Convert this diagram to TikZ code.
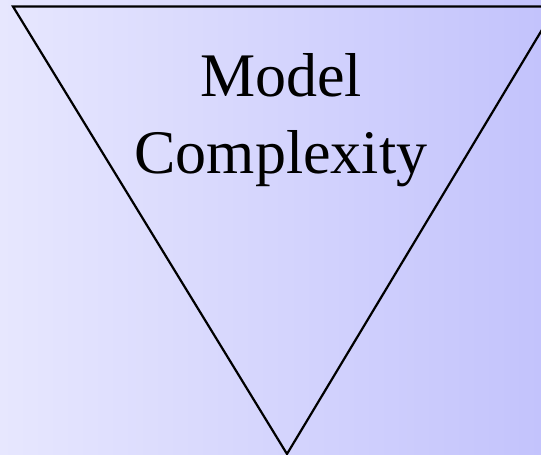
\documentclass[tikz,border=0pt]{standalone}
\usepackage{fontspec}
\setmainfont{Liberation Serif}
\begin{document}
\begin{tikzpicture}[x=1pt,y=1pt,
  edge/.style={draw=black,line width=2.2pt,line join=miter},
  title/.style={align=center,inner sep=0pt,font=\fontsize{62}{77}\selectfont}]
\useasboundingbox (0,0) rectangle (541,455);
\shade[left color={rgb,255:red,231;green,231;blue,254},right color={rgb,255:red,195;green,195;blue,252}] (0,0) rectangle (541,455);
\coordinate (L) at (13,448.5);
\coordinate (R) at (556,448.5);
\coordinate (A) at (287,1);
\begin{scope}
\clip (0,0) rectangle (541,455);
\draw[edge] (L) -- (R) -- (A) -- cycle;
\end{scope}
\node[title] (t) at (281,335) {Model\\Complexity};
\end{tikzpicture}
\end{document}
